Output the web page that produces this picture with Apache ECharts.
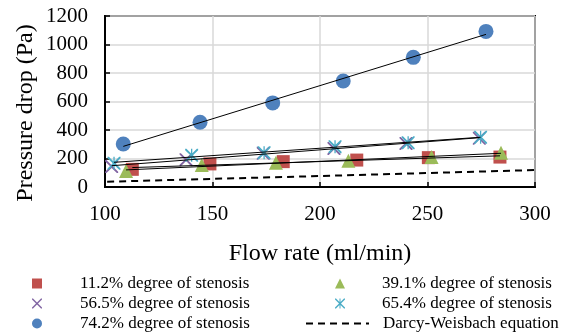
<!DOCTYPE html>
<html>
<head>
<meta charset="utf-8">
<script src="https://cdn.jsdelivr.net/npm/echarts@6/dist/echarts.min.js"></script>
<style>html,body{margin:0;padding:0;background:#fff}#c{width:561px;height:335px}</style>
</head>
<body>
<div id="c"></div>
<script>
// Data
const Q_112 = [112.7, 148.8, 182.9, 217.1, 250.4, 283.7];
const P_112 = [124, 162, 178, 189, 206, 210];
const Q_391 = [109.8, 145.0, 179.5, 213.2, 251.9, 284.2];
const P_391 = [112, 154, 171, 184, 210, 240];
const Q_565 = [103.1, 137.7, 173.6, 206.5, 240.0, 274.1];
const P_565 = [143, 192, 236, 271, 306, 342];
const Q_654 = [104.2, 140.3, 174.0, 207.0, 241.0, 274.7];
const P_654 = [166, 222, 240, 283, 311, 349];
const Q_742 = [108.5, 144.2, 178.0, 210.8, 243.4, 277.2];
const P_742 = [302, 454, 590, 744, 910, 1092];
const Q_DW = [101, 150, 200, 250, 300];
const P_DW = [37, 57, 77, 98, 119];
const xTicks = [100, 150, 200, 250, 300];
const yTicks = [0, 200, 400, 600, 800, 1000, 1200];
const names = ['11.2% degree of stenosis','39.1% degree of stenosis','56.5% degree of stenosis','65.4% degree of stenosis','74.2% degree of stenosis','Darcy-Weisbach equation'];

const FONT = 'Liberation Serif';
const pairs = (xs, ys) => xs.map((x, i) => [x, ys[i]]);
function trend(xs, ys) {
  const n = xs.length;
  const mx = xs.reduce((a, b) => a + b, 0) / n;
  const my = ys.reduce((a, b) => a + b, 0) / n;
  let sxy = 0, sxx = 0;
  for (let i = 0; i < n; i++) { sxy += (xs[i] - mx) * (ys[i] - my); sxx += (xs[i] - mx) ** 2; }
  const b = sxy / sxx, a = my - b * mx;
  const x0 = Math.min(...xs), x1 = Math.max(...xs);
  return [[x0, a + b * x0], [x1, a + b * x1]];
}
const X_PATH = 'path://M0,0 L2,0 L10,8 L18,0 L20,0 L20,2 L12,10 L20,18 L20,20 L18,20 L10,12 L2,20 L0,20 L0,18 L8,10 L0,2 Z';
const STAR_PATH = 'path://M0,0 L2,0 L10,8 L18,0 L20,0 L20,2 L12,10 L20,18 L20,20 L18,20 L10,12 L2,20 L0,20 L0,18 L8,10 L0,2 Z M9,0 L11,0 L11,20 L9,20 Z';

const colors = ['#C0504D', '#9BBB59', '#8064A2', '#4BACC6', '#4F81BD'];
const sets = [[Q_112, P_112, 'rect', 13], [Q_391, P_391, 'triangle', 14], [Q_565, P_565, X_PATH, 13], [Q_654, P_654, STAR_PATH, 13], [Q_742, P_742, 'circle', 15]];

const series = [];
sets.forEach((s, i) => {
  series.push({
    name: names[i], type: 'scatter', data: pairs(s[0], s[1]),
    symbol: s[2], symbolSize: s[3], itemStyle: { color: colors[i], opacity: 1 }, z: 2 + i * 0.1
  });
});
sets.forEach((s, i) => {
  series.push({
    type: 'line', data: trend(s[0], s[1]), symbol: 'none', silent: true,
    lineStyle: { color: '#000', width: 1 }, z: 4
  });
});
series.push({
  name: names[5], type: 'line', data: pairs(Q_DW, P_DW), symbol: 'none', showSymbol: false,
  lineStyle: { color: '#000', width: 2, type: [7, 5] }, itemStyle: { color: '#000' }, z: 3
});

// one legend per entry: [name, left, rowCenterY, itemWidth, textPadLeft, hideSymbol]
const legendSpec = [
  [names[0], 32, 283.5, 10, 33, false],
  [names[2], 32, 303.5, 10, 33, false],
  [names[4], 32, 323.5, 10, 33, false],
  [names[1], 335, 283.5, 10, 32, false],
  [names[3], 335, 303.5, 10, 32, false],
  [names[5], 305, 323.5, 63, 9, true]
];
const legends = legendSpec.map(s => {
  const l = {
    data: [s[0]], left: s[1], top: s[2] - 8.5, padding: 0, itemWidth: s[3], itemHeight: 10,
    orient: 'horizontal', selectedMode: false,
    textStyle: { fontFamily: FONT, fontSize: 17, color: '#000', lineHeight: 17, padding: [0, 0, 0, s[4]] }
  };
  if (s[5]) l.itemStyle = { opacity: 0 };
  return l;
});

const chart = echarts.init(document.getElementById('c'), null, { renderer: 'canvas' });
chart.setOption({
  animation: false,
  textStyle: { fontFamily: FONT },
  grid: { left: 105, right: 26, top: 16, bottom: 148, show: true, borderColor: '#000', borderWidth: 2, containLabel: false },
  xAxis: {
    type: 'value', min: xTicks[0], max: xTicks[xTicks.length - 1], interval: 50,
    axisLine: { show: true, lineStyle: { color: '#000', width: 2 } },
    axisTick: { show: true, inside: true, length: 5, lineStyle: { color: '#000', width: 1.5 } },
    axisLabel: { fontFamily: FONT, fontSize: 21, color: '#000', margin: 17, formatter: v => String(v) },
    splitLine: { show: true, lineStyle: { color: '#D9D9D9', width: 1.5 } }
  },
  yAxis: {
    type: 'value', min: yTicks[0], max: yTicks[yTicks.length - 1], interval: 200,
    axisLine: { show: true, lineStyle: { color: '#000', width: 2 } },
    axisTick: { show: true, inside: true, length: 5, lineStyle: { color: '#000', width: 1.5 } },
    axisLabel: { fontFamily: FONT, fontSize: 21, color: '#000', margin: 17, formatter: v => String(v) },
    splitLine: { show: true, lineStyle: { color: '#D9D9D9', width: 1.5 } }
  },
  legend: legends,
  graphic: [
    { type: 'text', x: 320, y: 254, style: { text: 'Flow rate (ml/min)', font: '24px "Liberation Serif"', fill: '#000', align: 'center', verticalAlign: 'middle' } },
    { type: 'text', x: 26, y: 113, rotation: Math.PI / 2, style: { text: 'Pressure drop (Pa)', font: '24px "Liberation Serif"', fill: '#000', align: 'center', verticalAlign: 'middle' } }
  ],
  series: series
});
</script>
</body>
</html>
